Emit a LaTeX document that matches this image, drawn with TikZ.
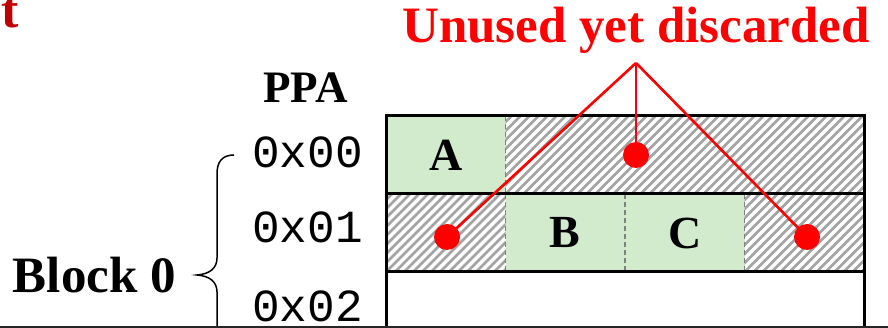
\documentclass[tikz,border=0pt]{standalone}
\usepackage{fontspec}
\setmainfont{Liberation Serif}
\setmonofont{Liberation Mono}
\definecolor{cellgreen}{HTML}{D3EBCD}
\definecolor{hatchgray}{HTML}{A3A3A3}
\definecolor{dred}{HTML}{C00000}
\definecolor{bred}{HTML}{FF0000}
\tikzset{
  cellbox/.style={draw=none, minimum height=78pt, inner sep=0pt, outer sep=0pt,
    font=\fontsize{46}{50}\selectfont\bfseries},
  greencell/.style={cellbox, fill=cellgreen},
  hatchcell/.style={cellbox, path picture={
      \foreach \i in {-90,-81,...,380}
        \draw[hatchgray, line width=2.6pt]
          ([xshift=\i pt]path picture bounding box.south west) -- ++(100pt,100pt);}},
  border/.style={line width=3pt, black},
  sep/.style={line width=1.6pt, gray, dash pattern=on 5pt off 3pt},
  hexlab/.style={font=\fontsize{46}{50}\ttfamily, inner sep=0pt, anchor=base east},
  dot/.style={circle, fill=bred, minimum size=26pt, inner sep=0pt},
  redline/.style={bred, line width=2.6pt},
}
\begin{document}
\begin{tikzpicture}[x=1pt,y=-1pt]
\useasboundingbox (0,0) rectangle (888,328);
\clip (0,0) rectangle (888,328);
% row 1
\node[greencell, minimum width=119.5pt] (A) at (445.75,155) {A};
\node[hatchcell, minimum width=358.5pt] (r1h) at (684.75,155) {};
% row 2
\node[hatchcell, minimum width=119.5pt] (r2l) at (445.75,233) {};
\node[greencell, minimum width=119.5pt] (B) at (565.25,233) {B};
\node[greencell, minimum width=119.5pt] (C) at (684.75,233) {C};
\node[hatchcell, minimum width=119.5pt] (r2r) at (804.25,233) {};
% separators
\draw[sep] (A.north east) -- (A.south east);
\draw[sep] (B.north west) -- (B.south west);
\draw[sep] (B.north east) -- (B.south east);
\draw[sep] (C.north east) -- (C.south east);
% borders
\draw[border] (386,400) -- (386,116) -- (864,116) -- (864,400);
\draw[border] (386,194) -- (864,194);
\draw[border] (386,272) -- (864,272);
% labels
\node[font=\fontsize{45}{50}\selectfont\bfseries, inner sep=0pt, anchor=base] (ppa) at (305.5,103) {PPA};
\node[hexlab] (h0) at (363,168) {0x00};
\node[hexlab] (h1) at (363,243) {0x01};
\node[hexlab] (h2) at (363,322) {0x02};
\node[font=\fontsize{51}{54}\selectfont\bfseries, inner sep=0pt, anchor=base east] (blk) at (176,293) {Block 0};
\draw[line width=1.5pt] (234,155) .. controls (222,155) and (217,162) .. (217,174) -- (217,258)
  .. controls (217,268) and (210,274) .. (197,275)
  .. controls (210,276) and (217,282) .. (217,292) -- (217,378)
  .. controls (217,388) and (222,395) .. (234,395);
\node[font=\fontsize{51}{54}\selectfont\bfseries, text=bred, inner sep=0pt, anchor=base] (title) at (636,43) {Unused yet discarded};
\node[font=\fontsize{52}{54}\selectfont\bfseries, text=dred, inner sep=0pt, anchor=base west] (tt) at (1,28) {t};
% red markers
\coordinate (apex) at (636,63);
\node[dot] (d1) at (636,155) {};
\node[dot] (d2) at (447,237) {};
\node[dot] (d3) at (807,237) {};
\draw[redline] (apex) -- (d1.center);
\draw[redline] (apex) -- (d2.center);
\draw[redline] (apex) -- (d3.center);
% bottom rule
\draw[line width=1.4pt, black!85] (0,327) -- (888,327);
\end{tikzpicture}
\end{document}
